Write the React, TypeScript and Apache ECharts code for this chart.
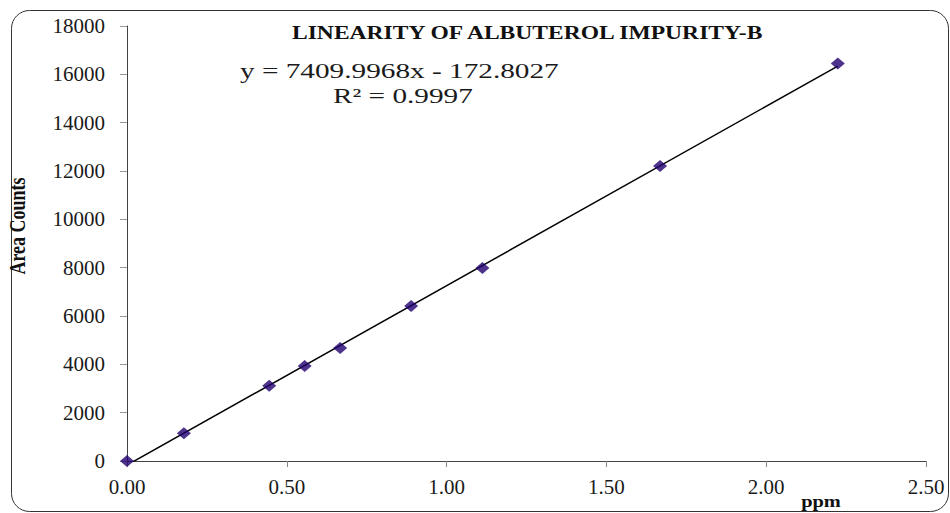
import React, { useEffect, useRef } from "react";
import * as echarts from "echarts";

const ppm = [0, 0.178, 0.445, 0.556, 0.667, 0.889, 1.112, 1.668, 2.224];
const areaCounts = [0, 1150, 3115, 3930, 4675, 6413, 7990, 12205, 16446];
const titleText = "LINEARITY OF ALBUTEROL IMPURITY-B";
const equationText = "y = 7409.9968x - 172.8027";
const r2Text = "R\u00b2 = 0.9997";
const xName = "ppm";
const yName = "Area Counts";

function fit(xs: number[], ys: number[]) {
  const n = xs.length;
  const mx = xs.reduce((a, b) => a + b, 0) / n;
  const my = ys.reduce((a, b) => a + b, 0) / n;
  let sxy = 0, sxx = 0;
  for (let i = 0; i < n; i++) {
    sxy += (xs[i] - mx) * (ys[i] - my);
    sxx += (xs[i] - mx) * (xs[i] - mx);
  }
  const slope = sxy / sxx;
  return { slope, intercept: my - slope * mx };
}

export default function App() {
  const ref = useRef<HTMLDivElement>(null);
  useEffect(() => {
    if (!ref.current) return;
    const chart = echarts.init(ref.current, undefined, { renderer: "svg" });
    const { slope, intercept } = fit(ppm, areaCounts);
    const xMin = Math.min(...ppm);
    const xMax = Math.max(...ppm);
    const font = "'Liberation Serif', 'Times New Roman', serif";
    chart.setOption({
      animation: false,
      backgroundColor: "#ffffff",
      grid: { left: 127, right: 24, top: 26, bottom: 52, containLabel: false },
      xAxis: {
        type: "value",
        min: 0,
        max: 2.5,
        interval: 0.5,
        splitLine: { show: false },
        axisLine: { show: true, lineStyle: { color: "#444", width: 1 } },
        axisTick: { show: true, length: 6, lineStyle: { color: "#888" } },
        axisLabel: {
          formatter: (v: number) => v.toFixed(2),
          fontFamily: font,
          fontSize: 21,
          color: "#1a1a1a",
          margin: 15,
        },
      },
      yAxis: {
        type: "value",
        min: 0,
        max: 18000,
        interval: 2000,
        splitLine: { show: false },
        axisLine: { show: true, lineStyle: { color: "#444", width: 1 } },
        axisTick: { show: true, length: 7, lineStyle: { color: "#999" } },
        axisLabel: {
          formatter: (v: number) => String(v),
          fontFamily: font,
          fontSize: 21,
          color: "#1a1a1a",
          margin: 22,
        },
      },
      series: [
        {
          type: "line",
          data: [
            [xMin, slope * xMin + intercept],
            [xMax, slope * xMax + intercept],
          ],
          showSymbol: false,
          symbol: "none",
          clip: true,
          lineStyle: { color: "#000", width: 1.5 },
          silent: true,
          z: 2,
        },
        {
          type: "scatter",
          data: ppm.map((x, i) => [x, areaCounts[i]]),
          symbol: "diamond",
          symbolSize: [14, 12],
          itemStyle: { color: "#21006e" },
          z: 3,
        },
      ],
      graphic: [
        {
          type: "rect",
          shape: { x: 11.5, y: 10.5, width: 937, height: 501, r: 18 },
          style: { fill: "none", stroke: "#333", lineWidth: 1 },
          silent: true,
        },
        {
          type: "text",
          x: 292,
          y: 33,
          scaleX: 1.24,
          style: {
            text: titleText,
            fontFamily: font,
            fontWeight: "bold",
            fontSize: 19,
            fill: "#111",
            verticalAlign: "middle",
            align: "left",
          },
        },
        {
          type: "text",
          x: 240,
          y: 71,
          scaleX: 1.33,
          style: {
            text: equationText,
            fontFamily: font,
            fontSize: 22,
            fill: "#1a1a1a",
            verticalAlign: "middle",
            align: "left",
          },
        },
        {
          type: "text",
          x: 333,
          y: 96,
          scaleX: 1.33,
          style: {
            text: r2Text,
            fontFamily: font,
            fontSize: 22,
            fill: "#1a1a1a",
            verticalAlign: "middle",
            align: "left",
          },
        },
        {
          type: "text",
          x: 17,
          y: 226,
          rotation: Math.PI / 2,
          scaleY: 1.3,
          style: {
            text: yName,
            fontFamily: font,
            fontWeight: "bold",
            fontSize: 18,
            fill: "#111",
            verticalAlign: "middle",
            align: "center",
          },
        },
        {
          type: "text",
          x: 821,
          y: 501,
          scaleX: 1.2,
          style: {
            text: xName,
            fontFamily: font,
            fontWeight: "bold",
            fontSize: 17,
            fill: "#111",
            verticalAlign: "middle",
            align: "center",
          },
        },
      ],
    });
    return () => chart.dispose();
  }, []);
  return <div ref={ref} style={{ width: 950, height: 513, position: "fixed", left: 0, top: 0 }} />;
}
